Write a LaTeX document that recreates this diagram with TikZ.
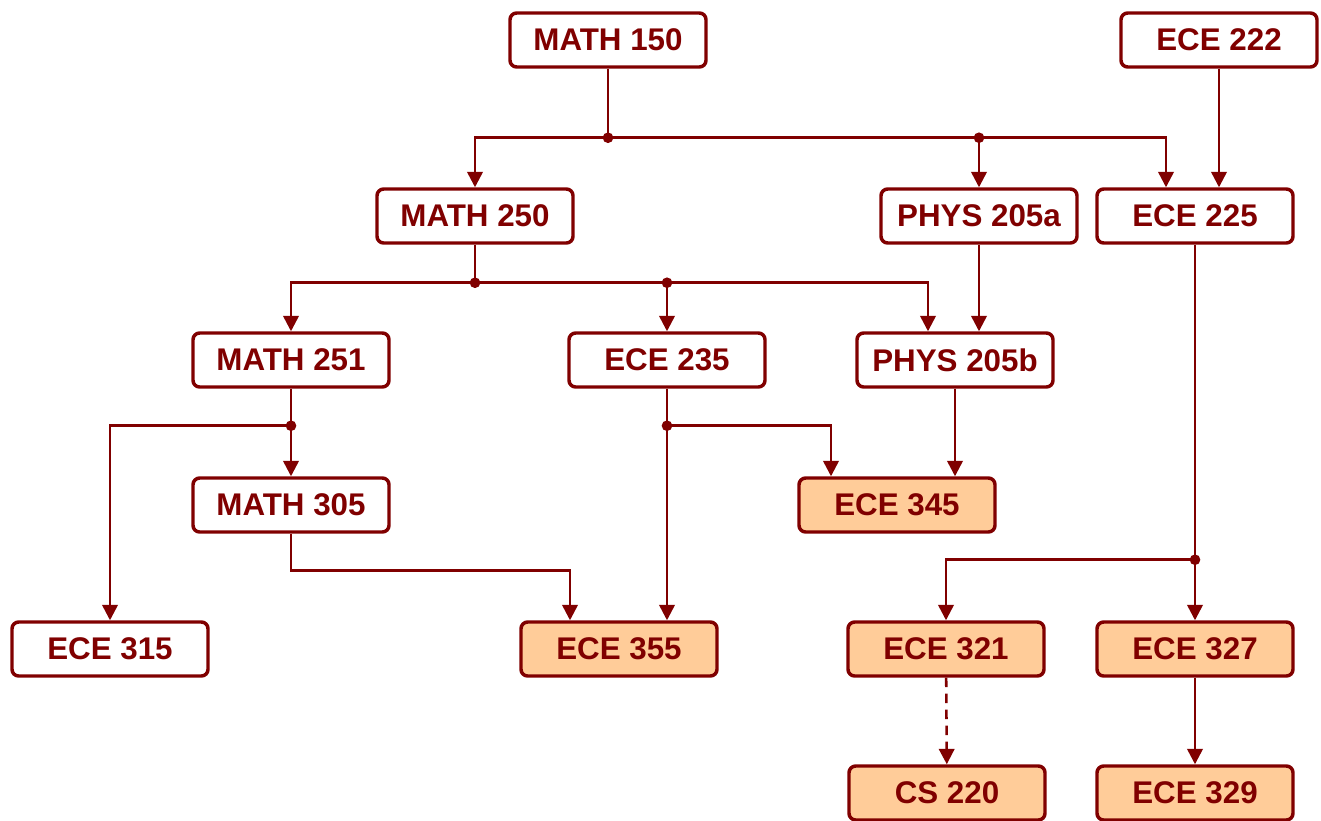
\documentclass[tikz,border=0pt]{standalone}
\usepackage{fontspec}
\setmainfont{Liberation Sans}
\usetikzlibrary{arrows.meta, calc}
\definecolor{darkred}{HTML}{800000}
\definecolor{peach}{HTML}{FFCC99}

\begin{document}
\begin{tikzpicture}[x=0.75pt, y=-0.75pt,
  course/.style={draw=darkred, line width=2.6pt, rounded corners=5pt, fill=white,
    minimum width=147pt, minimum height=40.5pt, text=darkred,
    font=\fontsize{23.5}{28}\selectfont\bfseries},
  core/.style={course, fill=peach},
  wire/.style={darkred, line width=1.9pt},
  link/.style={wire, -{Triangle[width=11.5pt,length=11.5pt]}},
  junction/.style={circle, fill=darkred, inner sep=0pt, minimum size=8pt}]
\useasboundingbox (0,0) rectangle (1321,821);

% top row
\node[course] (m150) at (608,40) {MATH 150};
\node[course] (e222) at (1219,40) {ECE 222};
% second row
\node[course] (m250) at (475,216) {MATH 250};
\node[course] (p205a) at (979,216) {PHYS 205a};
\node[course] (e225) at (1195,216) {ECE 225};
% third row
\node[course] (m251) at (291,360) {MATH 251};
\node[course] (e235) at (667,360) {ECE 235};
\node[course] (p205b) at (955,360) {PHYS 205b};
% fourth row
\node[course] (m305) at (291,505) {MATH 305};
\node[core] (e345) at (897,505) {ECE 345};
% fifth row
\node[course] (e315) at (110,649) {ECE 315};
\node[core] (e355) at (619,649) {ECE 355};
\node[core] (e321) at (946,649) {ECE 321};
\node[core] (e327) at (1195,649) {ECE 327};
% bottom row
\node[core] (c220) at (947,793) {CS 220};
\node[core] (e329) at (1195,793) {ECE 329};

% MATH 150 and ECE 222
\node[junction] (j1) at ($(m150.south)+(0,69)$) {};
\node[junction] (j2) at (p205a |- j1) {};
\draw[wire] (m150) -- (j1.center);
\draw[link] (j1.center) -| (m250);
\draw[link] (j2.center) -- (p205a);
\draw[link] (j1.center) -| ($(e225.north)+(-29,0)$);
\draw[link] (e222) -- (e222 |- e225.north);

% MATH 250 and PHYS 205a
\node[junction] (j3) at ($(m250.south)+(0,38)$) {};
\node[junction] (j4) at (e235 |- j3) {};
\draw[wire] (m250) -- (j3.center);
\draw[link] (j3.center) -| (m251);
\draw[link] (j4.center) -- (e235);
\draw[link] (j3.center) -| ($(p205b.north)+(-27,0)$);
\draw[link] (p205a) -- (p205a |- p205b.north);

% MATH 251
\node[junction] (j5) at ($(m251.south)+(0,37)$) {};
\draw[wire] (m251) -- (j5.center);
\draw[link] (j5.center) -- (m305);
\draw[link] (j5.center) -| (e315);

% ECE 235 and PHYS 205b
\node[junction] (j6) at ($(e235.south)+(0,37)$) {};
\draw[wire] (e235) -- (j6.center);
\draw[link] (j6.center) -- (j6 |- e355.north);
\draw[link] (j6.center) -| ($(e345.north)+(-66,0)$);
\draw[link] (p205b) -- (p205b |- e345.north);

% MATH 305
\draw[link] (m305.south) -- ++(0,37) -| ($(e355.north)+(-49,0)$);

% ECE 225
\node[junction] (j7) at ($(e225.south)+(0,315)$) {};
\draw[wire] (e225) -- (j7.center);
\draw[link] (j7.center) -- (e327);
\draw[link] (j7.center) -| (e321);

% last row
\draw[link, dash pattern=on 7pt off 5pt] (e321) -- (c220);
\draw[link] (e327) -- (e329);
\end{tikzpicture}
\end{document}
